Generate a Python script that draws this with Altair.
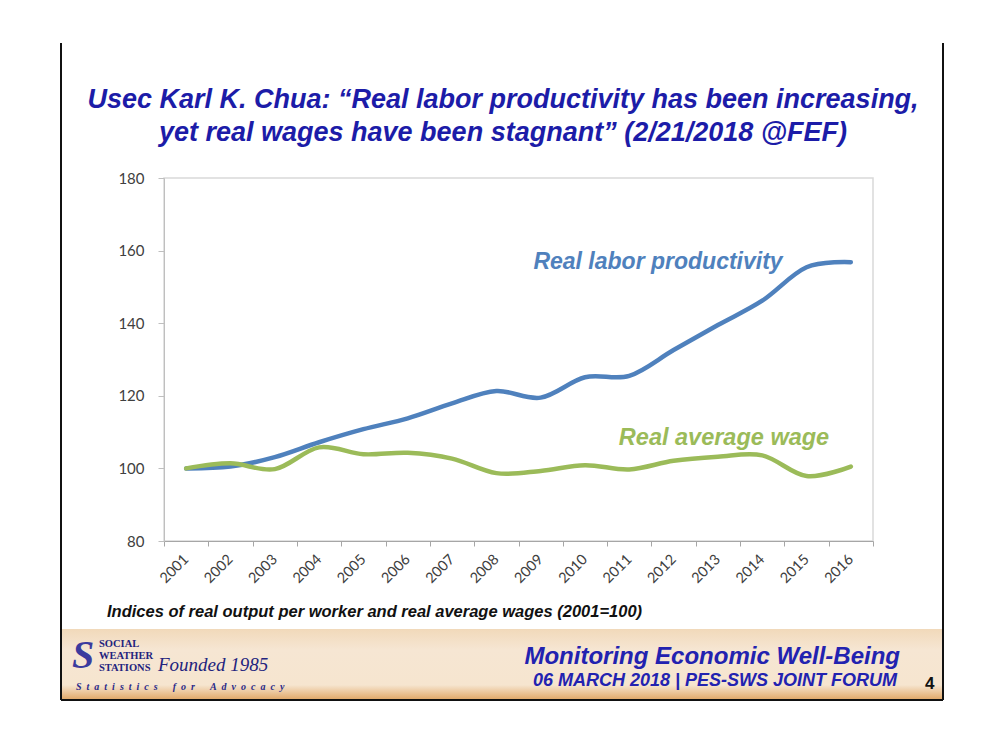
import altair as alt
import pandas as pd

years = [str(y) for y in range(2001, 2017)]
productivity = [100.0, 100.5, 103.1, 107.2, 110.8, 113.8, 117.9, 121.3,
                119.5, 125.1, 125.5, 132.6, 139.5, 146.2, 155.4, 156.8]
wages = [100.0, 101.4, 99.8, 105.8, 103.9, 104.3, 102.7, 98.7,
         99.3, 100.9, 99.7, 102.1, 103.2, 103.6, 97.9, 100.5]
series_names = ["Real labor productivity", "Real average wage"]
series_colors = ["#4f81bd", "#9bbb59"]
y_ticks = [80, 100, 120, 140, 160, 180]

df = pd.DataFrame({
    "year": years * 2,
    "value": productivity + wages,
    "series": [series_names[0]] * len(years) + [series_names[1]] * len(years),
})

NARROW = "'Liberation Sans Narrow', 'Arial Narrow', 'Liberation Sans', sans-serif"
SANS = "'Liberation Sans', Arial, sans-serif"
SERIF = "'Liberation Serif', 'Times New Roman', serif"
AXISFONT = "Lato, 'Open Sans', sans-serif"

blank = alt.Data(values=[{}])


def label(text, x, y, size, color, font=SANS, weight="bold", style="italic",
          align="left", baseline="middle"):
    return alt.Chart(blank).mark_text(
        text=text, fontSize=size, color=color, font=font, fontWeight=weight,
        fontStyle=style, align=align, baseline=baseline
    ).encode(x=alt.value(x), y=alt.value(y))


def rule(x, x2, y, y2, color="#111111", width=2):
    return alt.Chart(blank).mark_rule(color=color, strokeWidth=width).encode(
        x=alt.value(x), x2=alt.value(x2), y=alt.value(y), y2=alt.value(y2))


footer = alt.Chart(blank).mark_rect(
    fill=alt.LinearGradient(
        gradient="linear", x1=0, x2=0, y1=0, y2=1,
        stops=[alt.GradientStop(color="#f1d9ba", offset=0),
               alt.GradientStop(color="#f6e6d3", offset=0.3),
               alt.GradientStop(color="#f6e5cf", offset=0.8),
               alt.GradientStop(color="#e2aa6c", offset=1)])
).encode(x=alt.value(-102), x2=alt.value(778), y=alt.value(451), y2=alt.value(521))

frame = [
    rule(-103, -103, -135, 522),
    rule(779, 779, -135, 522),
    rule(-103, 779, 522, 522),
]

lines = alt.Chart(df).mark_line(
    interpolate="cardinal", strokeWidth=4.5, strokeCap="round"
).encode(
    x=alt.X("year:O", bandPosition=0.5,
            scale=alt.Scale(type="band", paddingInner=0, paddingOuter=0),
            axis=alt.Axis(title=None, labelAngle=-45, labelAlign="right",
                          labelBaseline="middle", tickBand="extent",
                          tickSize=5, labelPadding=11, labelFontSize=14.5,
                          labelFont=AXISFONT, labelColor="#404040",
                          domainColor="#a6a6a6", tickColor="#a6a6a6")),
    y=alt.Y("value:Q", scale=alt.Scale(domain=[80, 180], nice=False, zero=False),
            axis=alt.Axis(title=None, values=y_ticks, grid=False, tickSize=6,
                          labelPadding=14, labelFontSize=15, labelFont=AXISFONT,
                          labelColor="#404040", domainColor="#bfbfbf",
                          tickColor="#bfbfbf")),
    color=alt.Color("series:N", scale=alt.Scale(domain=series_names, range=series_colors),
                    legend=None),
)

EN = "\u2002"
EM = "\u2003"
motto = (EM + EN).join(EN.join(w) for w in ["Statistics", "for", "Advocacy"])

texts = [
    label("Usec Karl K. Chua: \u201cReal labor productivity has been increasing,",
          339, -78, 27, "#1c1ca8", font=NARROW, align="center"),
    label("yet real wages have been stagnant\u201d (2/21/2018 @FEF)",
          339, -45, 27, "#1c1ca8", font=NARROW, align="center"),
    label(series_names[0], 494, 84, 23, series_colors[0], align="center"),
    label(series_names[1], 560, 260, 23.5, series_colors[1], align="center"),
    label("Indices of real output per worker and real average wages (2001=100)",
          -57, 434, 16.5, "#111111", font=NARROW),
    label("Monitoring Economic Well-Being", 736, 479, 24, "#2222b0", align="right"),
    label("06 MARCH 2018 | PES-SWS JOINT FORUM", 733, 503, 18, "#2222b0",
          font=NARROW, align="right"),
    label("4", 761, 506, 17, "#111111", style="normal"),
    label("S", -81, 478, 40, "#3b3b9e", font=SERIF, align="center"),
    label("SOCIAL", -65, 466, 10.5, "#23237e", font=SERIF, style="normal"),
    label("WEATHER", -65, 478, 10.5, "#23237e", font=SERIF, style="normal"),
    label("STATIONS", -65, 490, 10.5, "#23237e", font=SERIF, style="normal"),
    label("Founded 1985", -6, 487, 19, "#23237e", font=SERIF, weight="normal"),
    label(motto, -88, 509, 10, "#2a2a8a", font=SERIF),
]

chart = alt.layer(footer, *frame, lines, *texts).properties(
    width=709, height=363,
    autosize=alt.AutoSizeParams(type="none"),
    padding={"left": 164, "top": 178, "right": 126, "bottom": 208},
    background="white",
).configure_view(stroke="#d9d9d9", strokeWidth=1.5)

chart.save("out.html", embed_options={"renderer": "svg", "actions": False})
